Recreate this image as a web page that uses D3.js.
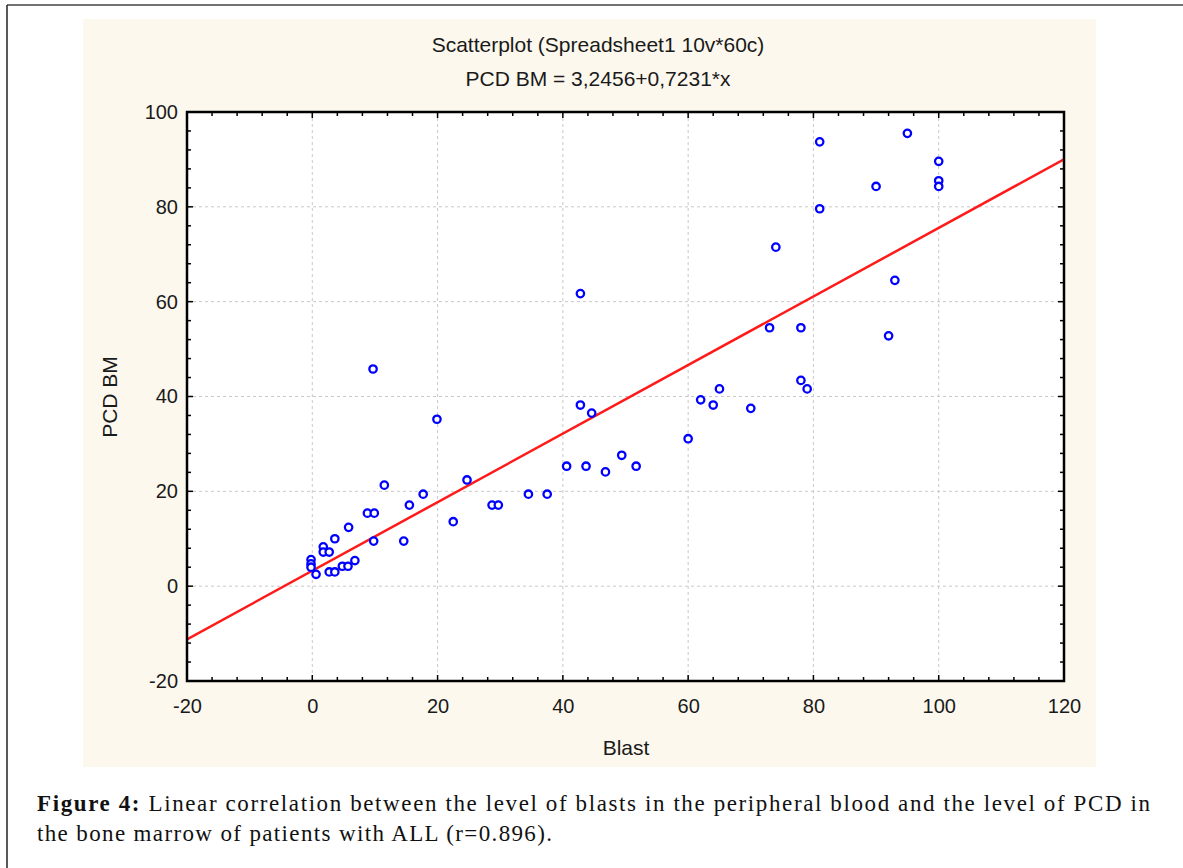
<!DOCTYPE html>
<html>
<head>
<meta charset="utf-8">
<script src="https://cdn.jsdelivr.net/npm/d3@7"></script>
<style>
  html, body { margin: 0; padding: 0; background: #ffffff; }
  svg { display: block; }
</style>
</head>
<body>
<svg id="fig" width="1183" height="868"></svg>
<script>
// Blast (%) in peripheral blood vs PCD (%) in bone marrow
const blast = [
  81, 95, 100, 100, 100, 90, 81, 74, 93, 73, 78, 92,
  60, 62, 64, 65, 70, 78, 79,
  9.7, 19.9, 11.5, 17.7, 24.7, 34.5, 37.5, 42.8, 44.6, 40.6, 43.7, 46.8, 49.4, 51.7,
  42.8,
  28.7, 29.7, 15.5, 8.8, 9.9, 22.5, 5.8, 3.6, 9.8, 14.6,
  1.75, 1.75, 2.7, -0.2, -0.2, -0.2, 0.6, 2.7, 3.6, 4.8, 5.7, 6.8
];
const pcdBM = [
  93.7, 95.5, 89.6, 85.5, 84.3, 84.3, 79.6, 71.5, 64.5, 54.5, 54.5, 52.8,
  31.1, 39.3, 38.2, 41.6, 37.5, 43.4, 41.6,
  45.8, 35.2, 21.3, 19.4, 22.4, 19.4, 19.4, 38.2, 36.5, 25.3, 25.3, 24.1, 27.6, 25.3,
  61.7,
  17.1, 17.1, 17.1, 15.4, 15.4, 13.6, 12.4, 10.0, 9.5, 9.5,
  8.3, 7.2, 7.2, 5.6, 4.7, 4.0, 2.5, 3.0, 3.0, 4.2, 4.2, 5.4
];

// Fitted line: PCD BM = 3,2456 + 0,7231*x
const intercept = 3.2456;
const slope = 0.7231;

const xDomain = [-20, 120];
const yDomain = [-20, 100];
const xMajorTicks = [-20, 0, 20, 40, 60, 80, 100, 120];
const yMajorTicks = [-20, 0, 20, 40, 60, 80, 100];
const minorStep = 4;

const titleLines = ["Scatterplot (Spreadsheet1 10v*60c)", "PCD BM = 3,2456+0,7231*x"];
const xLabel = "Blast";
const yLabel = "PCD BM";
const captionBold = "Figure 4:";
const captionLine1 = " Linear correlation between the level of blasts in the peripheral blood and the level of PCD in";
const captionLine2 = "the bone marrow of patients with ALL (r=0.896).";

const svg = d3.select("#fig");

// page frame
svg.append("line").attr("x1", 7).attr("y1", 5).attr("x2", 1183).attr("y2", 5)
  .attr("stroke", "#444").attr("stroke-width", 1.5);
svg.append("line").attr("x1", 7).attr("y1", 5).attr("x2", 7).attr("y2", 868)
  .attr("stroke", "#222").attr("stroke-width", 1.5);

// chart panel background
svg.append("rect").attr("x", 83).attr("y", 19).attr("width", 1013).attr("height", 748)
  .attr("fill", "#fdf8ee");

const plot = { left: 187, right: 1064, top: 112, bottom: 681 };
const x = d3.scaleLinear().domain(xDomain).range([plot.left, plot.right]);
const y = d3.scaleLinear().domain(yDomain).range([plot.bottom, plot.top]);

const sans = "'Liberation Sans', Arial, sans-serif";

// plot area
svg.append("rect").attr("x", plot.left).attr("y", plot.top)
  .attr("width", plot.right - plot.left).attr("height", plot.bottom - plot.top)
  .attr("fill", "#ffffff");

// dashed grid
const grid = svg.append("g").attr("stroke", "#c8c8c8").attr("stroke-width", 1)
  .attr("stroke-dasharray", "3,3");
grid.selectAll("line.vx").data(xMajorTicks.filter(d => d > xDomain[0] && d < xDomain[1]))
  .join("line").attr("x1", d => x(d)).attr("x2", d => x(d))
  .attr("y1", plot.top).attr("y2", plot.bottom);
grid.selectAll("line.hy").data(yMajorTicks.filter(d => d > yDomain[0] && d < yDomain[1]))
  .join("line").attr("x1", plot.left).attr("x2", plot.right)
  .attr("y1", d => y(d)).attr("y2", d => y(d));

// inward ticks on all four sides
const xMinor = d3.range(xDomain[0], xDomain[1] + 0.001, minorStep);
const yMinor = d3.range(yDomain[0], yDomain[1] + 0.001, minorStep);
const ticks = svg.append("g").attr("stroke", "#000").attr("stroke-width", 1.5);
[[plot.bottom, -1], [plot.top, 1]].forEach(([yy, dir]) => {
  ticks.append("g").selectAll("line").data(xMinor).join("line")
    .attr("x1", d => x(d)).attr("x2", d => x(d))
    .attr("y1", yy).attr("y2", d => yy + dir * (xMajorTicks.includes(d) ? 6 : 4));
});
[[plot.left, 1], [plot.right, -1]].forEach(([xx, dir]) => {
  ticks.append("g").selectAll("line").data(yMinor).join("line")
    .attr("y1", d => y(d)).attr("y2", d => y(d))
    .attr("x1", xx).attr("x2", d => xx + dir * (yMajorTicks.includes(d) ? 6 : 4));
});

// tick labels via d3 axes (plain hyphen for negatives)
const plain = d => String(d);
const xAxis = svg.append("g").attr("transform", `translate(0,${plot.bottom})`)
  .call(d3.axisBottom(x).tickValues(xMajorTicks).tickFormat(plain).tickSize(0).tickPadding(18));
const yAxis = svg.append("g").attr("transform", `translate(${plot.left},0)`)
  .call(d3.axisLeft(y).tickValues(yMajorTicks).tickFormat(plain).tickSize(0).tickPadding(9));
[xAxis, yAxis].forEach(a => {
  a.select(".domain").remove();
  a.selectAll("text").attr("font-family", sans).attr("font-size", 20).attr("fill", "#1a1a1a");
});

// regression line
const clipId = "plotClip";
svg.append("clipPath").attr("id", clipId).append("rect")
  .attr("x", plot.left).attr("y", plot.top)
  .attr("width", plot.right - plot.left).attr("height", plot.bottom - plot.top);
const fit = d => intercept + slope * d;
svg.append("line").attr("clip-path", `url(#${clipId})`)
  .attr("x1", x(xDomain[0])).attr("y1", y(fit(xDomain[0])))
  .attr("x2", x(xDomain[1])).attr("y2", y(fit(xDomain[1])))
  .attr("stroke", "#ff1a1a").attr("stroke-width", 2.5);

// points
svg.append("g").selectAll("circle").data(blast.map((b, i) => [b, pcdBM[i]]))
  .join("circle")
  .attr("cx", d => x(d[0])).attr("cy", d => y(d[1])).attr("r", 3.7)
  .attr("fill", "#ffffff").attr("stroke", "#0000ff").attr("stroke-width", 2.3);

// frame
svg.append("rect").attr("x", plot.left).attr("y", plot.top)
  .attr("width", plot.right - plot.left).attr("height", plot.bottom - plot.top)
  .attr("fill", "none").attr("stroke", "#000").attr("stroke-width", 2.5);

// titles
svg.selectAll("text.title").data(titleLines).join("text")
  .attr("x", 598).attr("y", (d, i) => 52 + i * 34)
  .attr("text-anchor", "middle").attr("font-family", sans).attr("font-size", 21)
  .attr("fill", "#1a1a1a").text(d => d);

// axis labels
svg.append("text").attr("x", 626).attr("y", 755).attr("text-anchor", "middle")
  .attr("font-family", sans).attr("font-size", 21).attr("fill", "#1a1a1a").text(xLabel);
svg.append("text").attr("transform", "translate(117,397) rotate(-90)")
  .attr("text-anchor", "middle").attr("font-family", sans).attr("font-size", 21)
  .attr("fill", "#1a1a1a").text(yLabel);

// caption
const serif = "'Liberation Serif', 'DejaVu Serif', serif";
const cap1 = svg.append("text").attr("x", 37).attr("y", 811)
  .attr("font-family", serif).attr("font-size", 23).attr("fill", "#111")
  .attr("textLength", 1113).attr("lengthAdjust", "spacing");
cap1.append("tspan").attr("font-weight", "bold").text(captionBold);
cap1.append("tspan").text(captionLine1);
svg.append("text").attr("x", 37).attr("y", 841)
  .attr("font-family", serif).attr("font-size", 23).attr("fill", "#111")
  .attr("textLength", 515).attr("lengthAdjust", "spacing")
  .text(captionLine2);
</script>
</body>
</html>
